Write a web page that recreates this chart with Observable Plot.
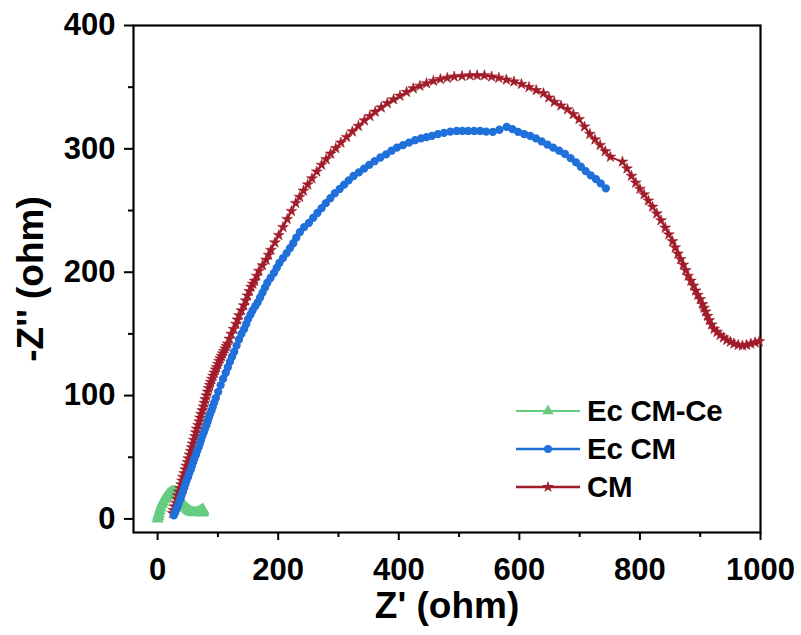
<!DOCTYPE html>
<html>
<head>
<meta charset="utf-8">
<script src="https://cdn.jsdelivr.net/npm/d3@7"></script>
<script src="https://cdn.jsdelivr.net/npm/@observablehq/plot@0.6"></script>
<style>
  html, body { margin: 0; padding: 0; background: #fff; }
  #wrap { position: relative; width: 801px; height: 635px; font-family: "Liberation Sans", Arial, sans-serif; }
  #legend { position: absolute; left: 514px; top: 392px; }
  .lrow { display: flex; align-items: center; height: 38px; }
  .lrow span { font-weight: bold; font-size: 29.5px; color: #000; margin-left: 5px; letter-spacing: -0.3px; }
</style>
</head>
<body>
<div id="wrap"><div id="legend"></div></div>
<script>
// ---- data ----
const seriesNames = ["Ec CM-Ce", "Ec CM", "CM"];
const seriesColors = ["#66cc80", "#2070da", "#a11c2a"];

// Ec CM-Ce (green, triangles)
const ecCmCeX = [0, 1, 2, 3.5, 5, 7, 9, 11, 13, 15, 17, 19, 21, 23, 25, 27, 29, 31, 33, 35, 37, 39, 41, 43, 45, 47, 49, 51, 53, 55, 58, 61, 64, 67, 70, 72, 74, 75.5, 76, 75];
const ecCmCeY = [0, 2, 4, 6.5, 9, 11.5, 13.5, 15.5, 17, 18.5, 19.5, 20.5, 21.2, 21.7, 22, 22, 21.7, 21, 20, 18.5, 16.8, 15, 13.2, 11.5, 10, 8.8, 7.8, 7, 6.3, 5.8, 5.3, 5.1, 5.2, 5.6, 6.2, 6.8, 7.5, 7.2, 6, 4.8];

// Ec CM (blue, circles)
const ecCmX = [27, 29, 31, 33, 35, 37.5, 39.5, 42, 44, 46, 48, 50.5, 52.5, 55, 57, 59, 61, 63.5, 65.5, 68, 70, 72, 74, 76.5, 78.5, 81, 83, 85, 87, 89.5, 91.5, 94, 96.5, 100.5, 104.5, 108.5, 113, 116.5, 120, 123.5, 127, 131, 135, 139, 143.5, 147, 150, 154, 157.5, 162, 166, 170, 174, 178, 182, 187.5, 193, 197.5, 202, 208, 214, 219.5, 225, 230, 236, 243, 251, 258, 265, 272, 279, 286.5, 294, 302, 309.5, 317, 325, 334, 342.5, 351, 360, 369.5, 379, 388, 397, 407, 417, 427, 437, 446, 455, 465, 475, 485.5, 496, 505.5, 515, 525, 535, 545, 556, 567, 579, 588.5, 598, 608, 618, 627.5, 637, 646.5, 656, 666, 675.5, 685, 694, 702, 710, 718.5, 727, 735, 743.5];
const ecCmY = [3, 5, 7.5, 10, 13, 16, 19, 22, 25, 28, 31, 34, 37, 40, 43, 46, 49, 52, 55, 58, 61, 64, 67, 70, 73, 76, 79, 82, 85, 88, 91, 94.5, 98, 103, 108.5, 113.5, 118.5, 123, 127.5, 131.5, 135.5, 140.5, 145.5, 150, 154, 158, 162, 165.5, 169, 172.5, 175.5, 179.5, 183.5, 187.5, 191.5, 195.5, 199.5, 203.5, 207.5, 211.5, 215.5, 219.5, 223.5, 228, 232.5, 236.5, 240, 244, 248, 252, 256, 260, 264, 267.5, 271, 274.5, 278, 281, 284, 287, 290, 293, 295.5, 298.5, 301, 303, 305, 307, 308.5, 309.5, 310.5, 312, 313, 314, 314.5, 314.5, 314.5, 314.5, 314.5, 314, 313.8, 315.5, 317.8, 316, 313.8, 312, 310.5, 308.5, 306, 303.5, 301, 298.5, 296, 292.5, 289, 285.5, 282, 278.5, 275.5, 272, 268];

// CM (dark red, stars)
const cmX = [25, 26.5, 28, 30, 32, 33.5, 35, 37, 39, 40.5, 42, 44, 46, 47.5, 49.5, 51, 53, 55, 56.5, 58, 60, 62, 63.5, 65, 67, 69, 70.5, 72, 74, 76, 77.5, 79, 81, 83, 84.5, 86.5, 88, 90, 92, 94, 96, 98, 100, 102, 104, 106, 108, 110, 112, 114, 116, 119, 122, 126, 130, 132.5, 135, 139, 143, 146, 149, 152, 155, 158, 161, 164.5, 168, 174, 180, 184, 188, 194.5, 201, 208, 215, 222, 229, 235.5, 242, 249, 256, 264, 272, 279.5, 287, 295.5, 304, 313.5, 323, 333, 343, 352, 361, 371, 381, 391.5, 402, 413, 424, 435, 446, 457.5, 469, 480.5, 492, 505, 518, 530, 542, 554, 566, 578.5, 591, 603.5, 616, 628, 640, 649, 658, 669, 680, 689.5, 699, 708, 717, 725.5, 734, 742.5, 751, 771, 778.5, 786, 793, 800, 807, 814, 821, 828, 835, 842, 848, 854, 858.5, 863, 867.5, 872, 876, 880, 884.5, 889, 892.5, 896, 900, 904, 906.5, 909, 912, 915, 919, 923, 928, 933, 938.5, 944, 950, 956, 963, 970, 977, 984, 991, 998];
const cmY = [4.5, 7, 10, 13, 16, 19, 22, 25, 28, 31, 34, 37, 40, 43, 46, 49, 52, 55, 58, 61, 64, 67, 70, 73, 76, 79, 82, 85, 88, 91, 94, 97, 100, 103, 106, 108.5, 111, 113.5, 116, 118.5, 121, 123, 125.5, 128, 130, 132, 134, 136, 138, 140, 142, 146, 150, 154, 158, 161.5, 165, 169, 173, 177, 181, 184.5, 188, 190.5, 193, 197, 201, 205.5, 210, 214, 218, 224, 230, 236.5, 243, 249.5, 256, 261, 266, 271, 276, 281.5, 287, 291.5, 296, 300.5, 305, 309.5, 314, 318.5, 323, 326.5, 330, 333.5, 337, 340, 343, 346, 349, 351, 353, 355, 356.5, 357.5, 358.5, 359, 359.5, 359.5, 359.5, 358.5, 357.5, 356, 354.5, 352.5, 350, 347.5, 345, 341.5, 338, 335, 332, 328, 324, 318, 312, 307.5, 303, 298, 293.5, 289.5, 284, 278, 272.5, 267.5, 263, 258, 253, 247.5, 242, 236, 230.5, 225, 220, 215, 210.5, 206, 201.5, 197, 193, 189, 185, 181.5, 178, 174, 171, 168, 164.5, 161, 157.5, 154, 151.5, 149, 147, 145, 143.5, 142, 141, 140.5, 141, 142, 143, 144];

const xMajorTicks = [0, 200, 400, 600, 800, 1000];
const xMinorTicks = [100, 300, 500, 700, 900];
const yMajorTicks = [0, 100, 200, 300, 400];
const yMinorTicks = [50, 150, 250, 350];
const xTitle = "Z' (ohm)";
const yTitle = "-Z'' (ohm)";

// ---- build table ----
const toRows = (xs, ys, name) => xs.map((x, i) => ({x, y: ys[i], series: name}));
const green = toRows(ecCmCeX, ecCmCeY, seriesNames[0]);
const blue = toRows(ecCmX, ecCmY, seriesNames[1]);
const red = toRows(cmX, cmY, seriesNames[2]);

const font = "'Liberation Sans', Arial, sans-serif";
const plain = d => String(d);

const chart = Plot.plot({
  width: 801,
  height: 635,
  marginLeft: 133,
  marginRight: 41,
  marginTop: 25,
  marginBottom: 103,
  x: {domain: [-40, 1000]},
  y: {domain: [-11, 400]},
  style: {fontFamily: font, fontWeight: "bold", color: "#000", background: "white", overflow: "visible"},
  marks: [
    Plot.axisX({ticks: xMinorTicks, tickSize: 5, text: null, label: null, strokeWidth: 2}),
    Plot.axisX({ticks: xMajorTicks, tickSize: 8, tickPadding: 17, fontSize: 31, label: null, strokeWidth: 2, tickFormat: plain}),
    Plot.axisY({ticks: yMinorTicks, tickSize: 5, text: null, label: null, strokeWidth: 2}),
    Plot.axisY({ticks: yMajorTicks, tickSize: 9, tickPadding: 9, fontSize: 31, label: null, strokeWidth: 2, tickFormat: plain}),
    Plot.frame({stroke: "#000", strokeWidth: 2.2}),
    Plot.text([xTitle], {frameAnchor: "bottom", dy: 74, lineAnchor: "middle", textAnchor: "middle", fontSize: 37, fontWeight: "bold", fill: "#000"}),
    Plot.text([yTitle], {frameAnchor: "left", dx: -102, rotate: -90, textAnchor: "middle", lineAnchor: "middle", fontSize: 37, fontWeight: "bold", fill: "#000"}),

    Plot.line(green, {x: "x", y: "y", stroke: seriesColors[0], strokeWidth: 3}),
    Plot.dot(green, {x: "x", y: "y", symbol: "triangle", r: 3.6, fill: seriesColors[0], stroke: seriesColors[0]}),

    Plot.line(red, {x: "x", y: "y", stroke: seriesColors[2], strokeWidth: 2}),
    Plot.dot(red, {x: "x", y: "y", symbol: "star", r: 3.4, fill: seriesColors[2], stroke: seriesColors[2], strokeWidth: 0.6}),

    Plot.line(blue, {x: "x", y: "y", stroke: seriesColors[1], strokeWidth: 2.5}),
    Plot.dot(blue, {x: "x", y: "y", symbol: "circle", r: 3.4, fill: seriesColors[1], stroke: seriesColors[1]})
  ]
});
document.getElementById("wrap").prepend(chart);

// ---- legend ----
const legendSymbols = [d3.symbolTriangle, d3.symbolCircle, d3.symbolStar];
const legendSizes = [55, 50, 45];
const leg = d3.select("#legend");
seriesNames.forEach((name, i) => {
  const row = leg.append("div").attr("class", "lrow");
  const svg = row.append("svg").attr("width", 68).attr("height", 20);
  svg.append("line").attr("x1", 2).attr("x2", 66).attr("y1", 10).attr("y2", 10)
    .attr("stroke", seriesColors[i]).attr("stroke-width", i === 0 ? 2 : 2.5);
  svg.append("path").attr("d", d3.symbol(legendSymbols[i], legendSizes[i])())
    .attr("transform", "translate(34,10)").attr("fill", seriesColors[i]);
  row.append("span").text(name);
});
</script>
</body>
</html>
